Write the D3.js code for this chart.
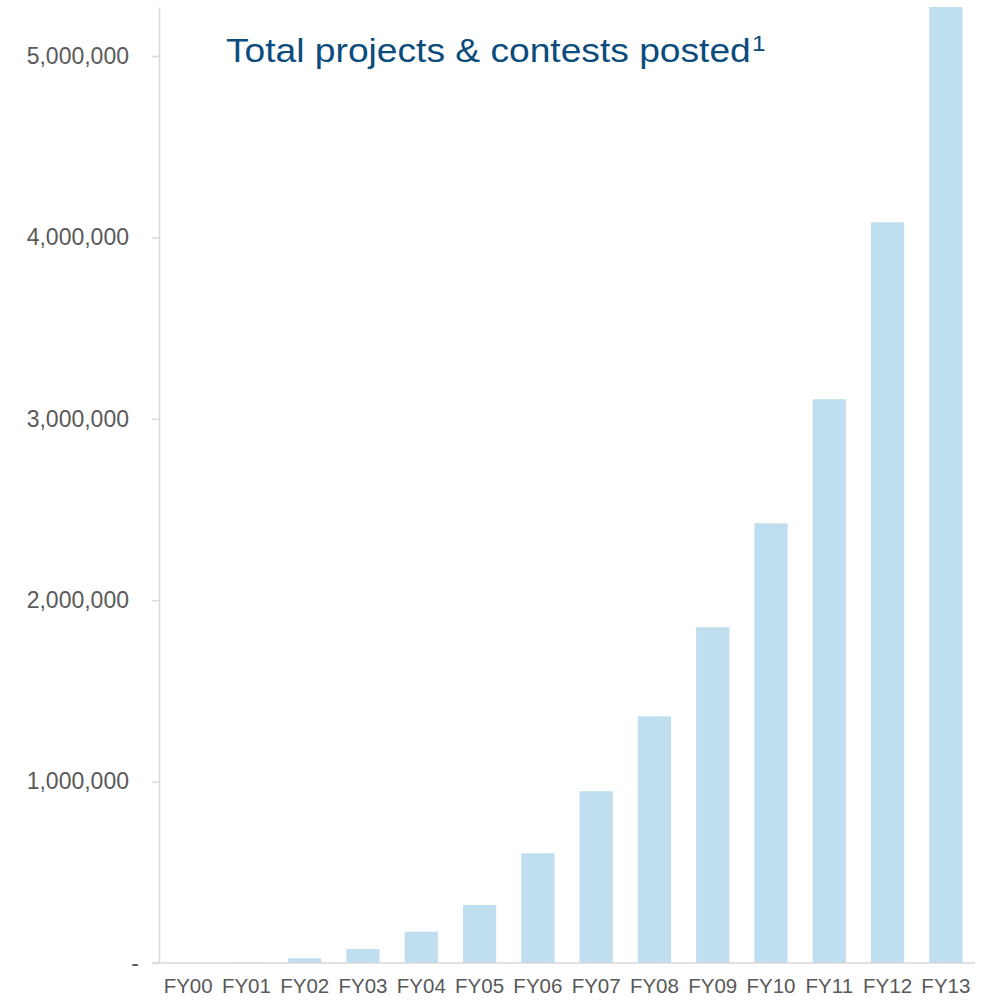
<!DOCTYPE html>
<html>
<head>
<meta charset="utf-8">
<script src="https://cdn.jsdelivr.net/npm/d3@7"></script>
<style>
  body { margin: 0; background: #fff; }
  svg { display: block; font-family: "Liberation Sans", Arial, sans-serif; }
</style>
</head>
<body>
<div id="chart"></div>
<script>
const years = ["FY00", "FY01", "FY02", "FY03", "FY04", "FY05", "FY06",
  "FY07", "FY08", "FY09", "FY10", "FY11", "FY12", "FY13"];
const posted = [0, 3000, 26000, 77000, 173000, 320000, 605000,
  947000, 1360000, 1851000, 2424000, 3108000, 4083000, 5270000];
const yTicks = [0, 1000000, 2000000, 3000000, 4000000, 5000000];
const title = "Total projects & contests posted";
const footnote = "1";

const dims = { x: 998, y: 1000 };
const margins = { left: 159, right: 23, top: 7, bottom: 37 };

const svg = d3.select("#chart").append("svg")
  .attr("width", dims.x)
  .attr("height", dims.y);

const scaleX = d3.scaleBand()
  .domain(years)
  .range([margins.left, dims.x - margins.right])
  .paddingInner(0.43)
  .paddingOuter(0.215);

const scaleY = d3.scaleLinear()
  .domain([0, 5270000])
  .range([dims.y - margins.bottom, margins.top]);

const fmt = d3.format(",");

// bars
svg.append("g")
  .selectAll("rect")
  .data(years)
  .join("rect")
  .attr("x", (d) => scaleX(d))
  .attr("width", scaleX.bandwidth())
  .attr("y", (d, i) => scaleY(posted[i]))
  .attr("height", (d, i) => scaleY(0) - scaleY(posted[i]))
  .attr("fill", "#bfdff1");

// y axis
const leftAxis = svg.append("g")
  .attr("transform", `translate(${margins.left}, 0)`)
  .call(d3.axisLeft(scaleY)
    .tickValues(yTicks)
    .tickSize(7)
    .tickSizeOuter(0)
    .tickPadding(23)
    .tickFormat((d) => (d === 0 ? "-" : fmt(d))));

leftAxis.select(".domain").attr("stroke", "#d9d9d9").attr("stroke-width", 1.5);
leftAxis.selectAll(".tick line").attr("stroke", "#d9d9d9").attr("stroke-width", 1.5);
leftAxis.selectAll(".tick text")
  .attr("fill", "#595959")
  .style("font-size", "23px")
  .style("font-family", "'Liberation Sans', Arial, sans-serif");
leftAxis.selectAll(".tick text").filter((d) => d === 0).attr("x", -20);

// x axis
const bottomAxis = svg.append("g")
  .attr("transform", `translate(0, ${scaleY(0)})`)
  .call(d3.axisBottom(scaleX).tickSize(0).tickPadding(15));

bottomAxis.select(".domain").remove();
bottomAxis.selectAll(".tick text")
  .attr("fill", "#595959")
  .style("font-size", "20.5px")
  .style("font-family", "'Liberation Sans', Arial, sans-serif");

svg.append("line")
  .attr("x1", margins.left - 7)
  .attr("x2", dims.x - margins.right)
  .attr("y1", scaleY(0))
  .attr("y2", scaleY(0))
  .attr("stroke", "#d9d9d9")
  .attr("stroke-width", 1.5);

// title, a little wider than the font's own width as in the original slide
const t = svg.append("text")
  .attr("transform", "translate(226, 62) scale(1.11, 1)")
  .attr("fill", "#0b4c7c")
  .style("font-size", "33.5px")
  .text(title);

t.append("tspan")
  .attr("dx", 1)
  .attr("dy", -11)
  .style("font-size", "22px")
  .text(footnote);
</script>
</body>
</html>
